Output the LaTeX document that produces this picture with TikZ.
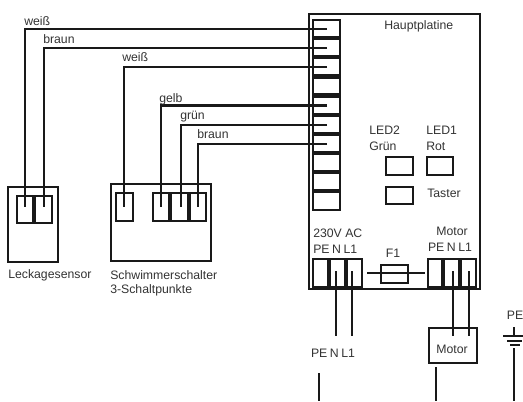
\documentclass[tikz,border=0pt]{standalone}
\usepackage{fontspec}
\setmainfont{Liberation Sans}
\usepackage{tikz}
\newcommand{\pinrow}{PE\hspace{1.9pt}N\hspace{1.9pt}L1}

\begin{document}
\begin{tikzpicture}[x=0.75pt, y=-0.75pt, line join=miter,
    every node/.style={font=\fontsize{9.2}{11}\selectfont, text=black!80, inner sep=0pt},
    box/.style={draw=black!90, line width=1.7pt, fill=none},
    wire/.style={draw=black!90, line width=1.7pt},
    sep/.style={draw=black!90, line width=3.2pt},
    txt/.style={anchor=west}]
  \useasboundingbox (0,0) rectangle (523,401);

  % main board
  \draw[box] (309,14) rectangle (480,289);
  \node[txt] (titlelabel) at (384,26) {Hauptplatine};

  % terminal strip on the board
  \draw[box] (313,20) rectangle (340,210);
  \foreach \i in {1,...,9} {
    \draw[sep] (313,{19+19.15*\i}) -- (340,{19+19.15*\i});
  }
  \foreach \i in {1,...,7} {
    \coordinate (t\i) at (327,{29+19.15*(\i-1)});
  }

  % leakage sensor
  \draw[box] (8,187) rectangle (58,262);
  \draw[box] (17,196) rectangle (52,223);
  \draw[sep] (34,196) -- (34,223);
  \coordinate (s1) at (25,207);
  \coordinate (s2) at (44,207);
  \node[txt] (leaklabel) at (8,275) {Leckagesensor};

  % float switch
  \draw[box] (111,184) rectangle (211,261);
  \draw[box] (116,193) rectangle (133,221);
  \draw[box] (153,193) rectangle (206,221);
  \draw[sep] (170,193) -- (170,221);
  \draw[sep] (189,193) -- (189,221);
  \coordinate (f1) at (124,207);
  \coordinate (f2) at (161,207);
  \coordinate (f3) at (181,207);
  \coordinate (f4) at (198,207);
  \node[txt] (floatlabel) at (110,275) {Schwimmerschalter};
  \node[txt] (pointlabel) at (110,290) {3-Schaltpunkte};

  % wires from the sensors to the strip
  \draw[wire] (t1) -| (s1);
  \draw[wire] (t2) -| (s2);
  \draw[wire] (t3) -| (f1);
  \draw[wire] (t5) -| (f2);
  \draw[wire] (t6) -| (f3);
  \draw[wire] (t7) -| (f4);
  \node[txt] (w1) at (24,21) {weiß};
  \node[txt] (w2) at (43,39) {braun};
  \node[txt] (w3) at (122,57) {weiß};
  \node[txt] (w4) at (159,99) {gelb};
  \node[txt] (w5) at (180,117) {grün};
  \node[txt] (w6) at (197,134) {braun};

  % LEDs and button
  \node[txt] (led2) at (369,130) {LED2};
  \node[txt] (green) at (369,146) {Grün};
  \node[txt] (led1) at (426,130) {LED1};
  \node[txt] (red) at (426,146) {Rot};
  \draw[box] (386,157) rectangle (413,175);
  \draw[box] (427,157) rectangle (453,175);
  \draw[box] (386,187) rectangle (413,204);
  \node[txt] (button) at (427,193) {Taster};

  % mains terminal
  \node[txt] (acv) at (313,233) {230V AC};
  \node[txt] (acpin) at (313,249) {\pinrow};
  \draw[box] (313,259) rectangle (362,287);
  \draw[sep] (329,259) -- (329,287);
  \draw[sep] (346,259) -- (346,287);
  \coordinate (n1) at (336,271);
  \coordinate (n2) at (352,271);
  \coordinate (n3) at (336,336);
  \coordinate (n4) at (352,336);
  \draw[wire] (n1) -- (n3);
  \draw[wire] (n2) -- (n4);
  \node (mainspin) at (333,353) {\pinrow};

  % fuse
  \node (fuselabel) at (393,253) {F1};
  \coordinate (fa) at (367,273);
  \coordinate (fb) at (425,273);
  \draw[wire] (fa) -- (fb);
  \draw[box] (381,265) rectangle (408,283);

  % motor terminal
  \node (motlabel) at (452,231) {Motor};
  \node (motpin) at (450,247) {\pinrow};
  \draw[box] (428,259) rectangle (476,287);
  \draw[sep] (443,259) -- (443,287);
  \draw[sep] (460,259) -- (460,287);
  \node[box, minimum width=36pt, minimum height=26.25pt, anchor=north west] (motor) at (428,327) {};
  \node (motorlabel) at (452,349) {Motor};
  \coordinate (m1) at (453,271);
  \coordinate (m2) at (469,271);
  \coordinate (m3) at (453,336);
  \coordinate (m4) at (469,336);
  \draw[wire] (m1) -- (m3);
  \draw[wire] (m2) -- (m4);

  % earth symbol
  \node (pelabel) at (515,315) {PE};
  \coordinate (g0) at (514,327);
  \coordinate (g1) at (514,336);
  \draw[wire] (g0) -- (g1);
  \draw[wire] (503,336) -- (524,336);
  \draw[wire] (507,341) -- (522,341);
  \draw[wire] (510,345) -- (520,345);

  % stubs running off the bottom
  \coordinate (c1) at (319,373);
  \coordinate (c2) at (319,401);
  \coordinate (c3) at (436,367);
  \coordinate (c4) at (436,401);
  \coordinate (c5) at (514,348);
  \coordinate (c6) at (514,401);
  \draw[wire] (c1) -- (c2);
  \draw[wire] (c3) -- (c4);
  \draw[wire] (c5) -- (c6);
\end{tikzpicture}
\end{document}
